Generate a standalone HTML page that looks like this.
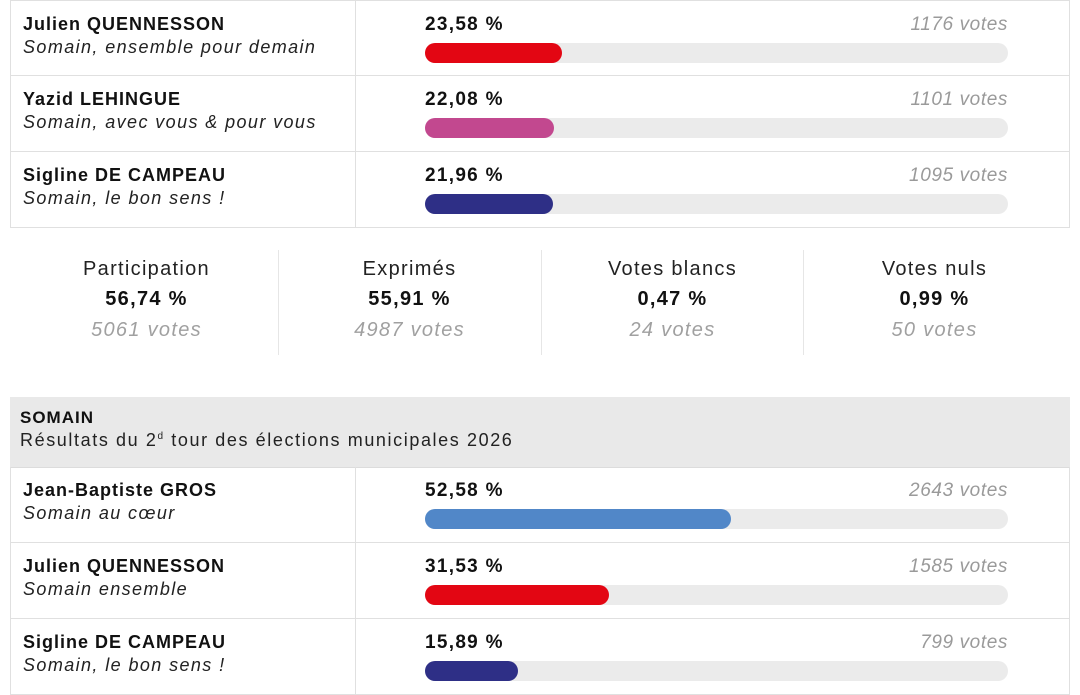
<!DOCTYPE html>
<html><head><meta charset="utf-8"><style>
*{margin:0;padding:0;box-sizing:border-box}
body{width:1080px;height:675px;overflow:hidden;background:#fff;font-family:"Liberation Sans",sans-serif;color:#111;position:relative}
.a{position:absolute}
.row{position:absolute;left:10px;width:1060px;height:76px;border:1px solid #e0e0e0;border-top:none}
.row .div{position:absolute;left:344px;top:0;bottom:0;border-left:1px solid #e0e0e0}
.nm{position:absolute;left:12px;top:13px;font-weight:bold;font-size:18px;letter-spacing:1px}
.sub{position:absolute;left:12px;top:36px;font-style:italic;font-size:18px;color:#222;letter-spacing:1.4px}
.pc{position:absolute;left:414px;top:13px;font-weight:bold;font-size:19px;letter-spacing:1.3px}
.vt{position:absolute;right:61px;top:13px;font-style:italic;font-size:19px;color:#9a9a9a;letter-spacing:0.6px}
.bg{position:absolute;left:414px;top:42px;width:583px;height:20px;border-radius:10px;background:#ebebeb}
.fg{position:absolute;left:0;top:0;height:20px;border-radius:10px}
.st{position:absolute;top:258px;width:263px;text-align:center;letter-spacing:1.3px}
.st .t{font-size:20px;color:#222}
.st .p{font-size:20px;font-weight:bold;margin-top:7px}
.st .v{font-size:20px;font-style:italic;color:#a0a0a0;margin-top:8px}
.vd{position:absolute;top:250px;height:105px;border-left:1px solid #e6e6e6}
</style></head><body>
<div class="row" style="top:0;border-top:1px solid #e0e0e0"><div class="div"></div><div class="nm">Julien QUENNESSON</div><div class="sub">Somain, ensemble pour demain</div><div class="pc">23,58 %</div><div class="vt">1176 votes</div><div class="bg"><div class="fg" style="width:137px;background:#e30613"></div></div></div>
<div class="row" style="top:76px"><div class="div"></div><div class="nm">Yazid LEHINGUE</div><div class="sub">Somain, avec vous &amp; pour vous</div><div class="pc">22,08 %</div><div class="vt">1101 votes</div><div class="bg"><div class="fg" style="width:129px;background:#c2488f"></div></div></div>
<div class="row" style="top:152px"><div class="div"></div><div class="nm">Sigline DE CAMPEAU</div><div class="sub">Somain, le bon sens !</div><div class="pc">21,96 %</div><div class="vt">1095 votes</div><div class="bg"><div class="fg" style="width:128px;background:#2e2f86"></div></div></div>

<div class="st" style="left:15px"><div class="t">Participation</div><div class="p">56,74 %</div><div class="v">5061 votes</div></div>
<div class="vd" style="left:278px"></div>
<div class="st" style="left:278px"><div class="t">Exprimés</div><div class="p">55,91 %</div><div class="v">4987 votes</div></div>
<div class="vd" style="left:541px"></div>
<div class="st" style="left:541px"><div class="t">Votes blancs</div><div class="p">0,47 %</div><div class="v">24 votes</div></div>
<div class="vd" style="left:803px"></div>
<div class="st" style="left:803px"><div class="t">Votes nuls</div><div class="p">0,99 %</div><div class="v">50 votes</div></div>

<div class="a" style="left:10px;top:397px;width:1060px;height:71px;background:#e9e9e9;border-bottom:1px solid #dcdcdc">
<div class="a" style="left:10px;top:11px;font-weight:bold;font-size:17px;letter-spacing:1px">SOMAIN</div>
<div class="a" style="left:10px;top:33px;font-size:18px;color:#222;letter-spacing:1.6px;white-space:nowrap">Résultats du 2<sup style="font-size:10px">d</sup> tour des élections municipales 2026</div>
</div>
<div class="row" style="top:467px"><div class="div"></div><div class="nm">Jean-Baptiste GROS</div><div class="sub">Somain au cœur</div><div class="pc">52,58 %</div><div class="vt">2643 votes</div><div class="bg"><div class="fg" style="width:306px;background:#5187c8"></div></div></div>
<div class="row" style="top:543px"><div class="div"></div><div class="nm">Julien QUENNESSON</div><div class="sub">Somain ensemble</div><div class="pc">31,53 %</div><div class="vt">1585 votes</div><div class="bg"><div class="fg" style="width:184px;background:#e30613"></div></div></div>
<div class="row" style="top:619px"><div class="div"></div><div class="nm">Sigline DE CAMPEAU</div><div class="sub">Somain, le bon sens !</div><div class="pc">15,89 %</div><div class="vt">799 votes</div><div class="bg"><div class="fg" style="width:93px;background:#2e2f86"></div></div></div>
</body></html>
